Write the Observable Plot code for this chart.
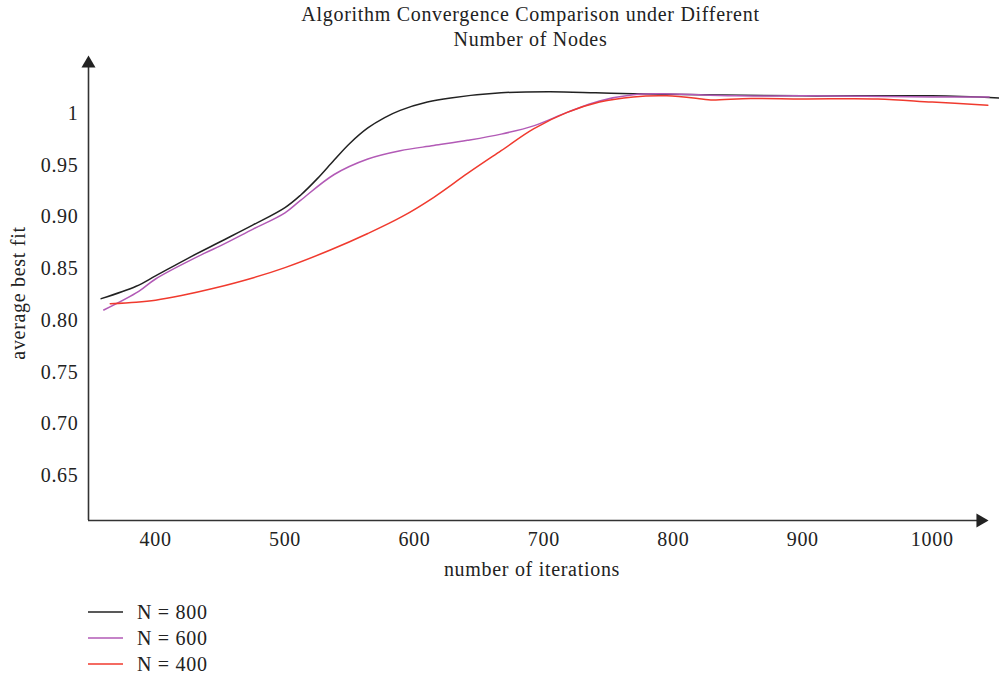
<!DOCTYPE html>
<html>
<head>
<meta charset="utf-8">
<script src="https://cdn.jsdelivr.net/npm/d3@7"></script>
<script src="https://cdn.jsdelivr.net/npm/@observablehq/plot@0.6"></script>
<style>
  html, body { margin: 0; padding: 0; background: #fff; }
  body { width: 999px; height: 678px; overflow: hidden; font-family: "Liberation Serif", serif; color: #222; letter-spacing: 0.7px; }
  #title { height: 52px; text-align: center; font-size: 20px; line-height: 25px; padding-left: 62px; box-sizing: border-box; padding-top: 2px; }
  #legend { position: absolute; left: 88px; top: 599px; font-size: 20px; }
  .row { height: 26px; display: flex; align-items: center; }
  .row svg { margin-right: 14px; }
  #chart { position: absolute; left: 0; top: 52px; }
  #chart svg text { letter-spacing: 0.7px; }
</style>
</head>
<body>
<div id="title">Algorithm Convergence Comparison under Different<br>Number of Nodes</div>
<div id="chart"></div>
<div id="legend"></div>
<script>
// ---- data ----
const seriesNames = ["N = 800", "N = 600", "N = 400"];
const seriesColors = ["#222222", "#b25ab6", "#f03a2e"];

const iterN800 = [358, 385, 400, 425, 450, 475, 500, 512, 525, 538, 550, 564, 577, 589, 610, 628, 667, 705, 740, 769, 822, 900, 1000, 1052];
const fitN800  = [0.821, 0.833, 0.843, 0.860, 0.876, 0.892, 0.909, 0.921, 0.937, 0.955, 0.971, 0.986, 0.996, 1.003, 1.011, 1.015, 1.020, 1.021, 1.020, 1.019, 1.018, 1.017, 1.017, 1.015];

const iterN600 = [360, 387, 400, 438, 450, 475, 500, 512, 538, 564, 589, 615, 641, 667, 692, 718, 743, 769, 790, 847, 900, 1000, 1044];
const fitN600  = [0.810, 0.828, 0.840, 0.865, 0.872, 0.888, 0.904, 0.916, 0.941, 0.956, 0.964, 0.969, 0.974, 0.980, 0.988, 1.001, 1.012, 1.018, 1.019, 1.017, 1.017, 1.016, 1.016];

const iterN400 = [365, 385, 400, 420, 445, 475, 500, 535, 564, 590, 615, 641, 667, 692, 718, 743, 769, 795, 822, 829, 860, 900, 958, 1000, 1043];
const fitN400  = [0.816, 0.8175, 0.8195, 0.824, 0.831, 0.841, 0.851, 0.868, 0.884, 0.900, 0.919, 0.942, 0.964, 0.985, 1.001, 1.011, 1.016, 1.017, 1.014, 1.013, 1.0145, 1.014, 1.014, 1.011, 1.008];

const xTicks = [400, 500, 600, 700, 800, 900, 1000];
const yTicks = [0.65, 0.70, 0.75, 0.80, 0.85, 0.90, 0.95, 1];
const xLabel = "number of iterations";
const yLabel = "average best fit";

// ---- build table ----
const iters = [iterN800, iterN600, iterN400];
const fits = [fitN800, fitN600, fitN400];
const rows = [];
seriesNames.forEach((s, i) => iters[i].forEach((x, j) => rows.push({series: s, x, y: fits[i][j]})));

const xDomain = [348.2, 1052];
const yDomain = [0.6066, 1.056];
const xArrowEnd = 1043.5;
const axisColor = "#333";
const font = "Liberation Serif, serif";

const chart = Plot.plot({
  width: 999,
  height: 543,
  marginLeft: 88,
  marginRight: 0,
  marginTop: 3,
  marginBottom: 75,
  style: {fontFamily: font, fontSize: "20px", color: "#222", background: "#fff"},
  x: {domain: xDomain, ticks: xTicks, tickSize: 0, tickPadding: 11, label: null, tickFormat: d => String(d)},
  y: {domain: yDomain, ticks: yTicks, tickSize: 0, tickPadding: 10, label: null,
      tickFormat: d => d === 1 ? "1" : d.toFixed(2)},
  color: {domain: seriesNames, range: seriesColors},
  marks: [
    Plot.line(rows, {x: "x", y: "y", stroke: "series", strokeWidth: 1.5, curve: "catmull-rom"}),
    Plot.ruleX([xDomain[0]], {y1: yDomain[0], y2: yDomain[1] - 0.01, stroke: axisColor, strokeWidth: 1.6}),
    Plot.ruleY([yDomain[0]], {x1: xDomain[0], x2: xArrowEnd - 8, stroke: axisColor, strokeWidth: 1.6}),
    Plot.dot([{x: xDomain[0], y: yDomain[1]}], {x: "x", y: "y", symbol: "triangle", r: 5.2, fill: "#222", stroke: null, dy: 8}),
    Plot.dot([{x: xArrowEnd, y: yDomain[0]}], {x: "x", y: "y", symbol: "triangle", r: 5.2, fill: "#222", stroke: null, dx: -8, rotate: 90}),
    Plot.text([xLabel], {frameAnchor: "bottom", textAnchor: "middle", dy: 55, dx: -12, fontSize: 20, fill: "#222"}),
    Plot.text([yLabel], {frameAnchor: "left", textAnchor: "middle", rotate: -90, dx: -70, dy: 5, fontSize: 20, fill: "#222"})
  ]
});
document.getElementById("chart").appendChild(chart);

// ---- legend ----
const legend = document.getElementById("legend");
seriesNames.forEach((s, i) => {
  const row = document.createElement("div");
  row.className = "row";
  row.innerHTML = `<svg width="35" height="4"><line x1="0" x2="35" y1="2" y2="2" stroke="${seriesColors[i]}" stroke-width="1.5"/></svg><span>${s}</span>`;
  legend.appendChild(row);
});
</script>
</body>
</html>
